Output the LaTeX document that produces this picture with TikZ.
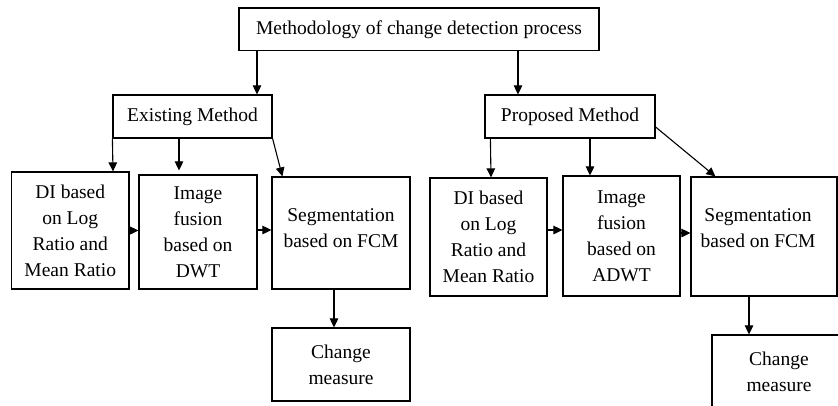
\documentclass[tikz,border=0pt]{standalone}
\usepackage{fontspec}
\setmainfont{Liberation Serif}
\usetikzlibrary{arrows.meta}
\begin{document}
\begin{tikzpicture}[x=1pt,y=-1pt,
  box/.style={draw=black,line width=1.2pt,inner sep=0pt,align=center,font=\fontsize{19.5}{26}\selectfont},
  txt/.style={inner sep=0pt,align=center,font=\fontsize{19.5}{26}\selectfont},
  arr/.style={line width=1.1pt,-{Triangle[length=9pt,width=8.5pt]}}]
\useasboundingbox (0,0) rectangle (838,405);
\clip (0,0) rectangle (838,405);
\fill[white] (0,0) rectangle (838,405);
% nodes
\node[box,minimum width=360pt,minimum height=42.5pt] (top) at (419,29.25) {Methodology of change detection process};
\node[box,minimum width=159pt,minimum height=43pt] (exist) at (192.5,116.5) {Existing Method};
\node[box,minimum width=170pt,minimum height=43pt] (prop) at (570,116.5) {Proposed Method};
\node[box,minimum width=117.5pt,minimum height=117pt] (diL) at (70.25,230.5) {DI based\\on Log\\Ratio and\\Mean Ratio};
\node[box,minimum width=118pt,minimum height=114pt] (fusL) at (198,232) {Image\\fusion\\based on\\DWT};
\node[box,minimum width=138pt,minimum height=112pt] (segL) at (341,233) {};
\node[txt,anchor=north] (segLt) at ([yshift=-32pt]segL.north) {Segmentation\\based on FCM};
\node[box,minimum width=138pt,minimum height=73pt] (chL) at (341,364.5) {Change\\measure};
\node[box,minimum width=117pt,minimum height=118pt] (diR) at (488.5,237) {DI based\\on Log\\Ratio and\\Mean Ratio};
\node[box,minimum width=117pt,minimum height=120pt] (fusR) at (621.5,236) {Image\\fusion\\based on\\ADWT};
\node[box,minimum width=146pt,minimum height=119pt] (segR) at (764,236.5) {};
\node[txt,anchor=north west] (segRt) at ([xshift=10pt,yshift=-32pt]segR.north west) {Segmentation\\based on FCM};
\node[box,minimum width=134pt,minimum height=73pt] (chR) at (779,371.5) {Change\\measure};
% connectors
\draw[arr] ([xshift=-162pt]top.south) -- ([xshift=64.5pt]exist.north);
\draw[arr] ([xshift=99pt]top.south) -- ([xshift=-52pt]prop.north);
\draw[arr] (exist.south west) -- ([xshift=42.75pt]diL.north);
\draw[arr] ([xshift=-13.5pt]exist.south) -- ([xshift=-19pt,yshift=4pt]fusL.north);
\draw[arr] (exist.south east) -- ([xshift=11pt]segL.north west);
\draw[arr] ([xshift=6pt]prop.south west) -- ([xshift=2.5pt]diR.north);
\draw[arr] ([xshift=20pt]prop.south) -- ([xshift=-31.5pt]fusR.north);
\draw[arr] ([yshift=-10.5pt]prop.east) -- ([xshift=25pt]segR.north west);
\draw[arr] (diL.east) -- (diL.east -| fusL.west);
\draw[arr] ([yshift=2pt]fusL.east) -- ([yshift=2pt]fusL.east -| segL.west);
\draw[arr] ([xshift=-7pt]segL.south) -- ([xshift=-7pt]chL.north);
\draw[arr] ([yshift=7pt]diR.east) -- ([yshift=7pt]diR.east -| fusR.west);
\draw[arr] ([yshift=3pt]fusR.east) -- ([yshift=3pt]fusR.east -| segR.west);
\draw[arr] ([xshift=-15pt]segR.south) -- ([xshift=-15pt]segR.south |- chR.north);
\end{tikzpicture}
\end{document}
